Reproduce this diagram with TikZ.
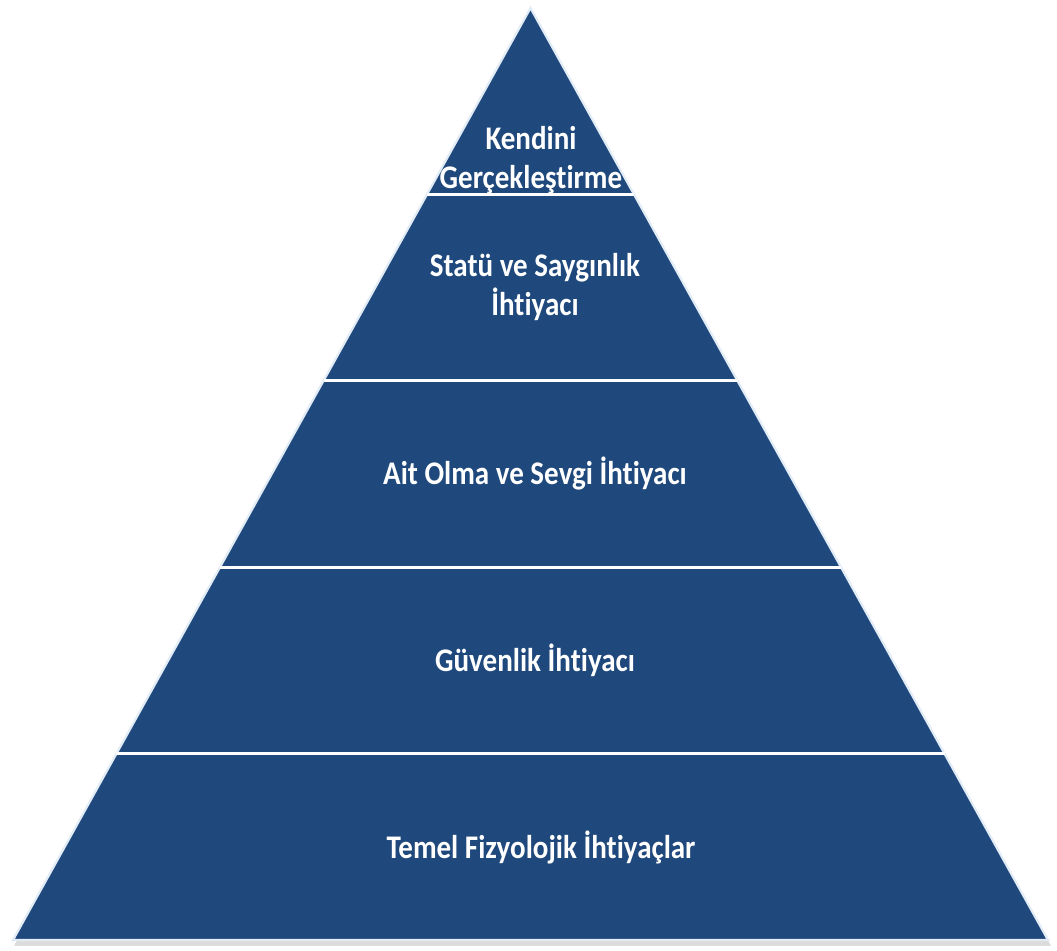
\documentclass[tikz,border=0pt]{standalone}
\usepackage{fontspec}
\setmainfont[FakeStretch=0.88,Ligatures={NoCommon}]{Carlito}
\usetikzlibrary{calc}
\definecolor{PyramidBlue}{RGB}{31,72,124}
\definecolor{EdgeLight}{RGB}{226,236,246}
\definecolor{ShadowGrey}{RGB}{205,205,205}
\tikzset{
  tierfill/.style={fill=PyramidBlue},
  sepline/.style={draw=white,line width=1.5pt},
  outline/.style={draw=EdgeLight,line width=1.1pt,line join=miter},
  tiertext/.style={text=white,align=center,inner sep=0pt,
    font=\fontsize{16.5}{19.5}\selectfont\bfseries}
}

\begin{document}
\begin{tikzpicture}[x=0.5pt,y=-0.5pt]
  \useasboundingbox (0,0) rectangle (1057,951);
  \coordinate (top) at (530.5,8);
  \coordinate (bl) at (13,940);
  \coordinate (br) at (1048,940);
  \coordinate (la) at ($(top)!0.2!(bl)$);
  \coordinate (ra) at ($(top)!0.2!(br)$);
  \coordinate (lb) at ($(top)!0.4!(bl)$);
  \coordinate (rb) at ($(top)!0.4!(br)$);
  \coordinate (lc) at ($(top)!0.6!(bl)$);
  \coordinate (rc) at ($(top)!0.6!(br)$);
  \coordinate (ld) at ($(top)!0.8!(bl)$);
  \coordinate (rd) at ($(top)!0.8!(br)$);
  % shadow and body
  \fill[ShadowGrey,opacity=0.7] ($(top)+(1,5)$) -- ($(bl)+(1,6)$) -- ($(br)+(3,6)$) -- cycle;
  \path[tierfill,outline] (top) -- (bl) -- (br) -- cycle;
  \draw[sepline] (la) -- (ra);
  \draw[sepline] (lb) -- (rb);
  \draw[sepline] (lc) -- (rc);
  \draw[sepline] (ld) -- (rd);
  \node[tiertext] (selfact) at (531,160) {Kendini\\Gerçekleştirme};
  \node[tiertext] (esteem) at (535,287) {Statü ve Saygınlık\\İhtiyacı};
  \node[tiertext] (belong) at (535,474) {Ait Olma ve Sevgi İhtiyacı};
  \node[tiertext] (safety) at (535,660) {Güvenlik İhtiyacı};
  \node[tiertext] (physio) at (541,847) {Temel Fizyolojik İhtiyaçlar};
\end{tikzpicture}
\end{document}
